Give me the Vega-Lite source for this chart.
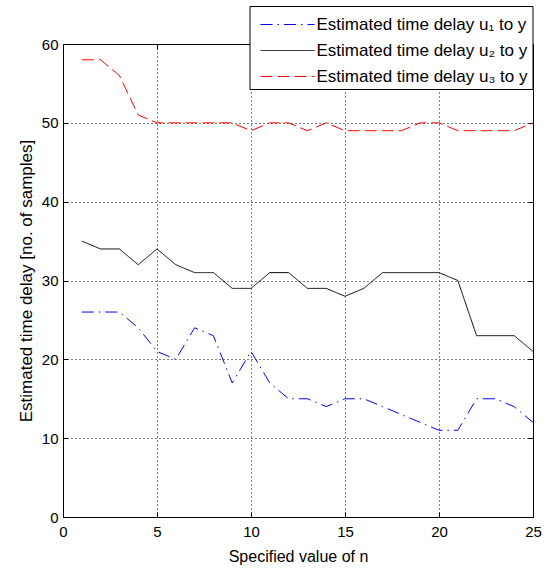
{
  "$schema": "https://vega.github.io/schema/vega-lite/v6.json",
  "width": 470,
  "height": 473,
  "autosize": {"type": "none"},
  "padding": {"left": 63, "top": 44, "right": 16, "bottom": 51},
  "background": "white",
  "config": {
    "view": {"stroke": "black", "strokeWidth": 1},
    "font": "Liberation Sans"
  },
  "data": {
    "values": [
      {"n": 1, "series": "Estimated time delay u₁ to y", "value": 26},
      {"n": 2, "series": "Estimated time delay u₁ to y", "value": 26},
      {"n": 3, "series": "Estimated time delay u₁ to y", "value": 26},
      {"n": 4, "series": "Estimated time delay u₁ to y", "value": 24},
      {"n": 5, "series": "Estimated time delay u₁ to y", "value": 21},
      {"n": 6, "series": "Estimated time delay u₁ to y", "value": 20},
      {"n": 7, "series": "Estimated time delay u₁ to y", "value": 24},
      {"n": 8, "series": "Estimated time delay u₁ to y", "value": 23},
      {"n": 9, "series": "Estimated time delay u₁ to y", "value": 17},
      {"n": 10, "series": "Estimated time delay u₁ to y", "value": 21},
      {"n": 11, "series": "Estimated time delay u₁ to y", "value": 17},
      {"n": 12, "series": "Estimated time delay u₁ to y", "value": 15},
      {"n": 13, "series": "Estimated time delay u₁ to y", "value": 15},
      {"n": 14, "series": "Estimated time delay u₁ to y", "value": 14},
      {"n": 15, "series": "Estimated time delay u₁ to y", "value": 15},
      {"n": 16, "series": "Estimated time delay u₁ to y", "value": 15},
      {"n": 17, "series": "Estimated time delay u₁ to y", "value": 14},
      {"n": 18, "series": "Estimated time delay u₁ to y", "value": 13},
      {"n": 19, "series": "Estimated time delay u₁ to y", "value": 12},
      {"n": 20, "series": "Estimated time delay u₁ to y", "value": 11},
      {"n": 21, "series": "Estimated time delay u₁ to y", "value": 11},
      {"n": 22, "series": "Estimated time delay u₁ to y", "value": 15},
      {"n": 23, "series": "Estimated time delay u₁ to y", "value": 15},
      {"n": 24, "series": "Estimated time delay u₁ to y", "value": 14},
      {"n": 25, "series": "Estimated time delay u₁ to y", "value": 12},
      {"n": 1, "series": "Estimated time delay u₂ to y", "value": 35},
      {"n": 2, "series": "Estimated time delay u₂ to y", "value": 34},
      {"n": 3, "series": "Estimated time delay u₂ to y", "value": 34},
      {"n": 4, "series": "Estimated time delay u₂ to y", "value": 32},
      {"n": 5, "series": "Estimated time delay u₂ to y", "value": 34},
      {"n": 6, "series": "Estimated time delay u₂ to y", "value": 32},
      {"n": 7, "series": "Estimated time delay u₂ to y", "value": 31},
      {"n": 8, "series": "Estimated time delay u₂ to y", "value": 31},
      {"n": 9, "series": "Estimated time delay u₂ to y", "value": 29},
      {"n": 10, "series": "Estimated time delay u₂ to y", "value": 29},
      {"n": 11, "series": "Estimated time delay u₂ to y", "value": 31},
      {"n": 12, "series": "Estimated time delay u₂ to y", "value": 31},
      {"n": 13, "series": "Estimated time delay u₂ to y", "value": 29},
      {"n": 14, "series": "Estimated time delay u₂ to y", "value": 29},
      {"n": 15, "series": "Estimated time delay u₂ to y", "value": 28},
      {"n": 16, "series": "Estimated time delay u₂ to y", "value": 29},
      {"n": 17, "series": "Estimated time delay u₂ to y", "value": 31},
      {"n": 18, "series": "Estimated time delay u₂ to y", "value": 31},
      {"n": 19, "series": "Estimated time delay u₂ to y", "value": 31},
      {"n": 20, "series": "Estimated time delay u₂ to y", "value": 31},
      {"n": 21, "series": "Estimated time delay u₂ to y", "value": 30},
      {"n": 22, "series": "Estimated time delay u₂ to y", "value": 23},
      {"n": 23, "series": "Estimated time delay u₂ to y", "value": 23},
      {"n": 24, "series": "Estimated time delay u₂ to y", "value": 23},
      {"n": 25, "series": "Estimated time delay u₂ to y", "value": 21},
      {"n": 1, "series": "Estimated time delay u₃ to y", "value": 58},
      {"n": 2, "series": "Estimated time delay u₃ to y", "value": 58},
      {"n": 3, "series": "Estimated time delay u₃ to y", "value": 56},
      {"n": 4, "series": "Estimated time delay u₃ to y", "value": 51},
      {"n": 5, "series": "Estimated time delay u₃ to y", "value": 50},
      {"n": 6, "series": "Estimated time delay u₃ to y", "value": 50},
      {"n": 7, "series": "Estimated time delay u₃ to y", "value": 50},
      {"n": 8, "series": "Estimated time delay u₃ to y", "value": 50},
      {"n": 9, "series": "Estimated time delay u₃ to y", "value": 50},
      {"n": 10, "series": "Estimated time delay u₃ to y", "value": 49},
      {"n": 11, "series": "Estimated time delay u₃ to y", "value": 50},
      {"n": 12, "series": "Estimated time delay u₃ to y", "value": 50},
      {"n": 13, "series": "Estimated time delay u₃ to y", "value": 49},
      {"n": 14, "series": "Estimated time delay u₃ to y", "value": 50},
      {"n": 15, "series": "Estimated time delay u₃ to y", "value": 49},
      {"n": 16, "series": "Estimated time delay u₃ to y", "value": 49},
      {"n": 17, "series": "Estimated time delay u₃ to y", "value": 49},
      {"n": 18, "series": "Estimated time delay u₃ to y", "value": 49},
      {"n": 19, "series": "Estimated time delay u₃ to y", "value": 50},
      {"n": 20, "series": "Estimated time delay u₃ to y", "value": 50},
      {"n": 21, "series": "Estimated time delay u₃ to y", "value": 49},
      {"n": 22, "series": "Estimated time delay u₃ to y", "value": 49},
      {"n": 23, "series": "Estimated time delay u₃ to y", "value": 49},
      {"n": 24, "series": "Estimated time delay u₃ to y", "value": 49},
      {"n": 25, "series": "Estimated time delay u₃ to y", "value": 50}
    ]
  },
  "layer": [
    {
      "mark": {"type": "line", "strokeWidth": 1},
      "encoding": {
        "x": {
          "field": "n", "type": "quantitative",
          "scale": {"domain": [0, 25], "nice": false, "zero": false},
          "axis": {
            "title": "Specified value of n",
            "values": [0, 5, 10, 15, 20, 25],
            "grid": true, "gridColor": "black", "gridDash": [1, 3], "gridOpacity": 1, "gridWidth": 1,
            "domain": false, "tickSize": -5, "tickColor": "black", "tickWidth": 1,
            "labelFlush": false, "labelFontSize": 15, "labelColor": "black", "labelPadding": 12,
            "titleFontSize": 16, "titleFontWeight": "normal", "titleColor": "black", "titlePadding": 9
          }
        },
        "y": {
          "field": "value", "type": "quantitative",
          "scale": {"domain": [0, 60], "nice": false, "zero": false},
          "axis": {
            "title": "Estimated time delay [no. of samples]",
            "values": [0, 10, 20, 30, 40, 50, 60],
            "grid": true, "gridColor": "black", "gridDash": [1, 3], "gridOpacity": 1, "gridWidth": 1,
            "domain": false, "tickSize": -5, "tickColor": "black", "tickWidth": 1,
            "labelFlush": false, "labelFontSize": 15, "labelColor": "black", "labelPadding": 10,
            "titleFontSize": 17, "titleFontWeight": "normal", "titleColor": "black", "titlePadding": 6
          }
        },
        "color": {
          "field": "series", "type": "nominal",
          "scale": {
            "domain": ["Estimated time delay u₁ to y", "Estimated time delay u₂ to y", "Estimated time delay u₃ to y"],
            "range": ["#0000ff", "#000000", "#ff0000"]
          },
          "legend": {
            "orient": "none", "legendX": 186.5, "legendY": -38, "title": null,
            "strokeColor": "black", "fillColor": "white", "padding": 4.5, "rowPadding": 4,
            "symbolType": "M-2,0H2", "symbolSize": 729, "symbolStrokeWidth": 1, "symbolOffset": 19.5,
            "labelOffset": 15, "labelFontSize": 17, "labelColor": "black", "labelLimit": 400
          }
        },
        "strokeDash": {
          "field": "series", "type": "nominal",
          "scale": {
            "domain": ["Estimated time delay u₁ to y", "Estimated time delay u₂ to y", "Estimated time delay u₃ to y"],
            "range": [[12, 5, 1.5, 5], [1, 0], [12, 5]]
          },
          "legend": {
            "orient": "none", "legendX": 186.5, "legendY": -38, "title": null,
            "strokeColor": "black", "fillColor": "white", "padding": 4.5, "rowPadding": 4,
            "symbolType": "M-2,0H2", "symbolSize": 729, "symbolStrokeWidth": 1, "symbolOffset": 19.5,
            "labelOffset": 15, "labelFontSize": 17, "labelColor": "black", "labelLimit": 400
          }
        }
      }
    },
    {
      "mark": {"type": "line", "opacity": 0},
      "encoding": {
        "x": {
          "field": "n", "type": "quantitative",
          "axis": {"orient": "top", "values": [0, 5, 10, 15, 20, 25], "labels": false, "title": null, "grid": false, "domain": false, "tickSize": -5, "tickColor": "black"}
        },
        "y": {
          "field": "value", "type": "quantitative",
          "axis": {"orient": "right", "values": [0, 10, 20, 30, 40, 50, 60], "labels": false, "title": null, "grid": false, "domain": false, "tickSize": -5, "tickColor": "black"}
        }
      }
    }
  ],
  "resolve": {"axis": {"x": "independent", "y": "independent"}}
}
